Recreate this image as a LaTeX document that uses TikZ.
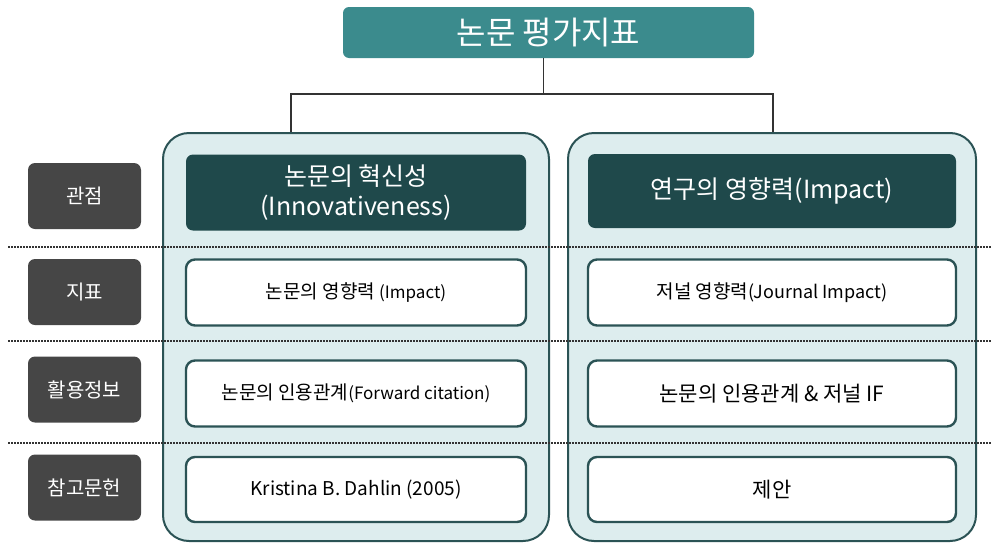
\documentclass[tikz,border=0pt]{standalone}
\usepackage{fontspec}
\setmainfont{Noto Sans CJK KR}
\usetikzlibrary{positioning}

\definecolor{titlefill}{HTML}{3B8B8D}
\definecolor{panelfill}{HTML}{DDEDEE}
\definecolor{paneldraw}{HTML}{2B5355}
\definecolor{headfill}{HTML}{1F494B}
\definecolor{labelfill}{HTML}{464646}
\definecolor{linegray}{HTML}{333333}

\begin{document}
\begin{tikzpicture}[x=1pt,y=-1pt,
    title/.style={fill=titlefill, rounded corners=6pt, text=white,
        minimum width=411pt, minimum height=51pt, inner sep=0pt,
        font=\fontsize{32}{36}\selectfont},
    panel/.style={fill=panelfill, draw=paneldraw, line width=2pt,
        rounded corners=26pt, minimum height=408pt, inner sep=0pt},
    head/.style={fill=headfill, rounded corners=7pt, text=white,
        minimum height=76pt, inner sep=0pt, align=center,
        font=\fontsize{25}{30}\selectfont},
    item/.style={fill=white, draw=paneldraw, line width=2.4pt,
        rounded corners=9pt, minimum height=66pt, inner sep=0pt,
        font=\fontsize{19}{23}\selectfont},
    label/.style={fill=labelfill, rounded corners=7pt, text=white,
        minimum width=113pt, minimum height=66pt, inner sep=0pt,
        font=\fontsize{20}{24}\selectfont},
    divider/.style={linegray, line width=1.6pt, dash pattern=on 1.6pt off 1.4pt},
    link/.style={linegray, line width=1.5pt}]

    \useasboundingbox (0,0) rectangle (991,544);

    % top
    \node[title] (title) at (548.5,32.5) {논문 평가지표};

    % columns
    \node[panel, minimum width=386pt] (lpanel) at (356,337) {};
    \node[panel, minimum width=408pt] (rpanel) at (772,337) {};

    \draw[link] ([xshift=-5pt]title.south) -- ++(0,36) coordinate (split);
    \draw[link] (split) -| ([xshift=-65pt]lpanel.north);
    \draw[link] (split) -| ([xshift=1pt]rpanel.north);

    % rows
    \foreach \y in {247,341,443}
        \draw[divider] (8,\y) -- (991,\y);

    \node[head, minimum width=340pt] (lhead) at (356,192.5)
        {논문의 혁신성\\(Innovativeness)};
    \node[head, minimum width=368pt, minimum height=74pt] (rhead) at (772,191)
        {연구의 영향력(Impact)};

    \node[item, minimum width=340pt] (lindex) at (356,292.5)
        {논문의 영향력 {\fontsize{17}{21}\selectfont(Impact)}};
    \node[item, minimum width=340pt] (ldata) at (356,393.5)
        {논문의 인용관계{\fontsize{17}{21}\selectfont(Forward citation)}};
    \node[item, minimum width=340pt, minimum height=65pt] (lref) at (356,489.5)
        {Kristina B. Dahlin (2005)};

    \node[item, minimum width=368pt] (rindex) at (772,292.5)
        {저널 영향력{\fontsize{18}{22}\selectfont(Journal Impact)}};
    \node[item, minimum width=368pt] (rdata) at (772,393.5)
        {\fontsize{21}{25}\selectfont 논문의 인용관계 \& 저널 IF};
    \node[item, minimum width=368pt, minimum height=65pt] (rref) at (772,489.5)
        {\fontsize{21}{25}\selectfont 제안};

    % left labels
    \node[label] (view) at (84.5,196) {관점};
    \node[label] (index) at (84.5,292) {지표};
    \node[label] (data) at (84.5,389.5) {활용정보};
    \node[label] (ref) at (84.5,487.5) {참고문헌};
\end{tikzpicture}
\end{document}
